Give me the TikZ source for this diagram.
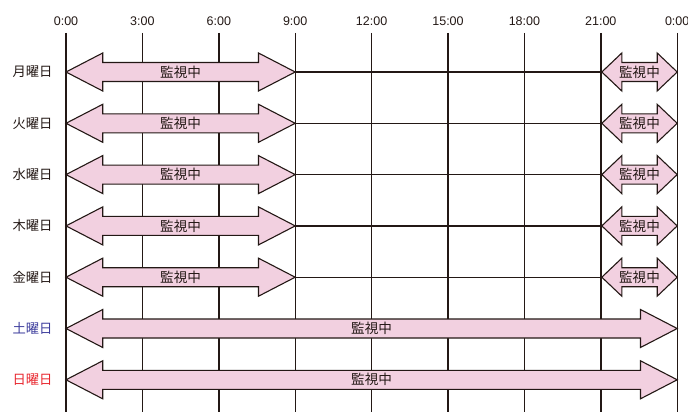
\documentclass[tikz,border=0pt]{standalone}
\usepackage{fontspec}
\setmainfont{Noto Sans CJK JP}
\newfontfamily\latinfont{Liberation Sans}
\definecolor{ink}{HTML}{231815}
\definecolor{pinkfill}{HTML}{F2D0E0}
\definecolor{satblue}{HTML}{3C3C9C}
\definecolor{sunred}{HTML}{E8262E}
\tikzset{
  grid/.style={draw=ink, line width=1.4pt},
  arrowbox/.style={draw=ink, fill=pinkfill, line width=1.1pt, line join=miter},
  timelabel/.style={font=\latinfont\fontsize{12.5}{14}\selectfont, text=ink},
  daylabel/.style={font=\fontsize{13.3}{15}\selectfont, text=ink, anchor=east},
  arrowtext/.style={font=\fontsize{13.6}{15}\selectfont, text=ink}
}
\newcommand{\dblarrow}[5]{% name, y, x1, x2, headlength
  \draw[arrowbox] (#3,#2) -- (#3+#5,#2-19) -- (#3+#5,#2-9.5) -- (#4-#5,#2-9.5) -- (#4-#5,#2-19)
    -- (#4,#2) -- (#4-#5,#2+19) -- (#4-#5,#2+9.5) -- (#3+#5,#2+9.5) -- (#3+#5,#2+19) -- cycle;
  \node[arrowtext] (#1) at ({(#3+#4)/2},#2) {監視中};
}
\begin{document}
\begin{tikzpicture}[x=1pt,y=-1pt]
\useasboundingbox (0,0) rectangle (688,412);
% time labels and vertical lines
\foreach \i/\t in {0/0:00,1/3:00,2/6:00,3/9:00,4/12:00,5/15:00,6/18:00,7/21:00,8/0:00}{
  \node[timelabel] (t\i) at (66+76.4*\i,21) {\t};
  \draw[grid] (66+76.4*\i,33) -- (66+76.4*\i,412);
}
% weekday rows
\foreach \r/\d in {0/月,1/火,2/水,3/木,4/金}{
  \pgfmathsetmacro{\yy}{72+51.3*\r}
  \node[daylabel] (day\r) at (56,\yy) {\d 曜日};
  \draw[grid] (295.2,\yy) -- (601.8,\yy);
  \dblarrow{a\r}{\yy}{66}{295.2}{36.7}
  \dblarrow{b\r}{\yy}{601.8}{677.2}{20}
}
% weekend rows
\node[daylabel, text=satblue] (day5) at (56,328.5) {土曜日};
\dblarrow{a5}{328.5}{66}{677.2}{36.7}
\node[daylabel, text=sunred] (day6) at (56,379.8) {日曜日};
\dblarrow{a6}{379.8}{66}{677.2}{36.7}
\end{tikzpicture}
\end{document}
